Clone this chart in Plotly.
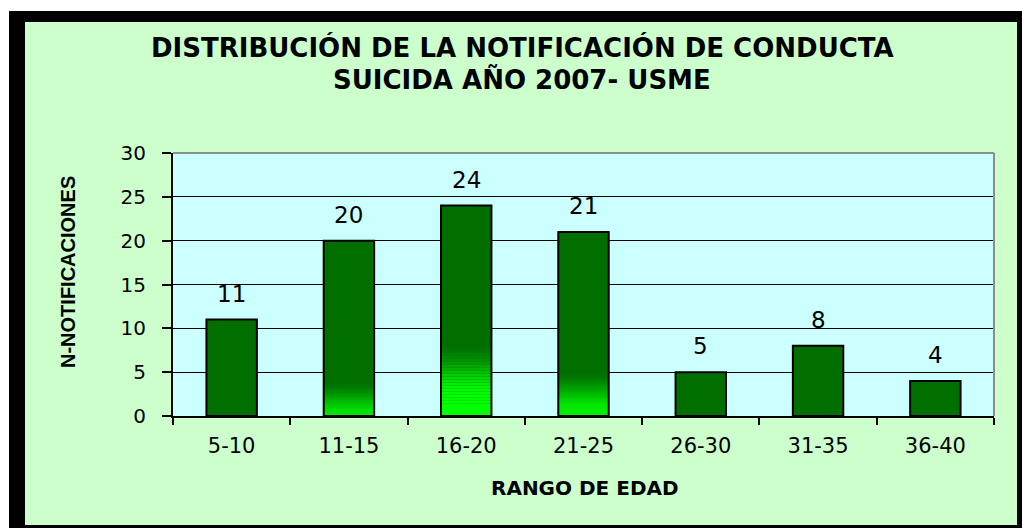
import plotly.graph_objects as go

# ---- data ----
categories = ["5-10", "11-15", "16-20", "21-25", "26-30", "31-35", "36-40"]
values = [11, 20, 24, 21, 5, 8, 4]
y_ticks = [0, 5, 10, 15, 20, 25, 30]

title_line1 = "DISTRIBUCIÓN DE LA NOTIFICACIÓN DE CONDUCTA"
title_line2 = "SUICIDA AÑO 2007- USME"
x_title = "RANGO DE EDAD"
y_title = "N-NOTIFICACIONES"

# ---- style ----
DARK = (0, 111, 0)
glow_top = [0, 4.1, 8.3, 5.2, 0, 0, 0]          # height (axis units) where bottom glow fades out
glow_color = [(0, 111, 0), (0, 225, 0), (0, 255, 0), (0, 238, 0), (0, 111, 0), (0, 111, 0), (0, 111, 0)]
glow_plateau = [0, 0.05, 0.27, 0.1, 0, 0, 0]
BAR_W = 0.43
NSEG = 24

W, H = 1022, 528
L, R, T, B = 173, 994, 153, 416


def px(x):
    return (x - L) / (R - L)


def py(y):
    return (B - y) / (B - T)


def mix(c_lo, c_hi, t):
    return "rgb(%d,%d,%d)" % tuple(round(a + (b - a) * t) for a, b in zip(c_lo, c_hi))


fig = go.Figure()

# base dark bars
fig.add_trace(go.Bar(x=categories, y=values, width=BAR_W,
                     marker=dict(color="rgb(%d,%d,%d)" % DARK, line=dict(width=0)),
                     hoverinfo="skip"))

# bottom glow (gradient) segments
for k in range(NSEG):
    t_mid = (k + 0.5) / NSEG
    seg_h, seg_base, seg_col = [], [], []
    for i in range(len(categories)):
        seg_h.append(glow_top[i] / NSEG)
        seg_base.append(glow_top[i] * k / NSEG)
        p = glow_plateau[i]
        t = 0 if t_mid <= p else (t_mid - p) / (1 - p)
        t = t * t * (3 - 2 * t)
        seg_col.append(mix(glow_color[i], DARK, t))
    fig.add_trace(go.Bar(x=categories, y=seg_h, base=seg_base, width=BAR_W,
                         marker=dict(color=seg_col, line=dict(width=0)),
                         hoverinfo="skip"))

# outline
fig.add_trace(go.Bar(x=categories, y=values, width=BAR_W,
                     marker=dict(color="rgba(0,0,0,0)", line=dict(color="black", width=2)),
                     hoverinfo="skip"))

annotations = []
for c, v in zip(categories, values):
    annotations.append(dict(x=c, y=v, xref="x", yref="y", text=str(v), showarrow=False,
                            yanchor="middle", yshift=26,
                            font=dict(family="DejaVu Sans", size=23, color="black")))

annotations += [
    dict(x=px(522), y=py(47), xref="paper", yref="paper", text=title_line1, showarrow=False,
         xanchor="center", yanchor="middle",
         font=dict(family="DejaVu Sans", size=26, color="black", weight="bold")),
    dict(x=px(522), y=py(80), xref="paper", yref="paper", text=title_line2, showarrow=False,
         xanchor="center", yanchor="middle",
         font=dict(family="DejaVu Sans", size=26, color="black", weight="bold")),
    dict(x=px(585), y=py(488), xref="paper", yref="paper", text=x_title, showarrow=False,
         xanchor="center", yanchor="middle",
         font=dict(family="DejaVu Sans", size=20, color="black", weight="bold")),
    dict(x=px(68), y=py(272), xref="paper", yref="paper", text=y_title, showarrow=False,
         xanchor="center", yanchor="middle", textangle=-90,
         font=dict(family="Liberation Sans", size=20, color="black", weight="bold")),
]

shapes = [
    # white outside margin
    dict(type="rect", xref="paper", yref="paper", x0=px(-5), x1=px(9), y0=py(540), y1=py(-5),
         fillcolor="white", line=dict(width=0)),
    dict(type="rect", xref="paper", yref="paper", x0=px(-5), x1=px(1030), y0=py(11), y1=py(-5),
         fillcolor="white", line=dict(width=0)),
    # black frame
    dict(type="rect", xref="paper", yref="paper", x0=px(9), x1=px(25), y0=py(540), y1=py(11),
         fillcolor="black", line=dict(width=0)),
    dict(type="rect", xref="paper", yref="paper", x0=px(9), x1=px(1030), y0=py(22), y1=py(11),
         fillcolor="black", line=dict(width=0)),
    dict(type="rect", xref="paper", yref="paper", x0=px(1017), x1=px(1030), y0=py(540), y1=py(11),
         fillcolor="black", line=dict(width=0)),
    dict(type="rect", xref="paper", yref="paper", x0=px(9), x1=px(1030), y0=py(540), y1=py(525),
         fillcolor="black", line=dict(width=0)),
    # grey plot-area border top/right
    dict(type="line", xref="paper", yref="paper", x0=0, x1=1, y0=1, y1=1,
         line=dict(color="#8c8c8c", width=2)),
    dict(type="line", xref="paper", yref="paper", x0=1, x1=1, y0=0, y1=1,
         line=dict(color="#8c8c8c", width=2)),
]

fig.update_layout(
    width=W, height=H,
    margin=dict(l=L, r=W - R, t=T, b=H - B, pad=0),
    paper_bgcolor="#CCFFCC",
    plot_bgcolor="#CCFFFF",
    barmode="overlay",
    showlegend=False,
    annotations=annotations,
    shapes=shapes,
    xaxis=dict(type="category", showline=True, linecolor="black", linewidth=2,
               ticks="outside", tickson="boundaries", ticklen=7, tickwidth=2, tickcolor="black",
               showgrid=False, ticklabelstandoff=10,
               tickfont=dict(family="DejaVu Sans", size=21, color="black")),
    yaxis=dict(range=[0, 30], tickvals=y_ticks, showline=True, linecolor="black", linewidth=2,
               ticks="outside", ticklen=9, tickwidth=2, tickcolor="black",
               showgrid=True, gridcolor="black", gridwidth=1, zeroline=False,
               ticklabelstandoff=12,
               tickfont=dict(family="DejaVu Sans", size=20, color="black")),
)

fig.write_html(
    "out.html",
    config={"displayModeBar": False},
    post_script="document.body.style.margin='0';document.body.style.overflow='hidden';",
)
